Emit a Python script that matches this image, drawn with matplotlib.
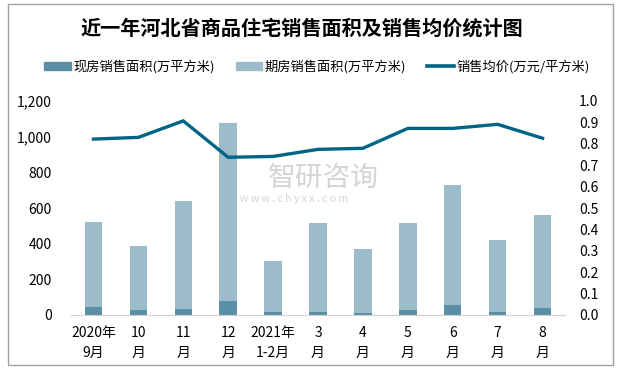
import matplotlib
matplotlib.use("Agg")
import matplotlib.pyplot as plt
from matplotlib.patches import Patch, Rectangle
from matplotlib.lines import Line2D
import numpy as np

plt.rcParams['font.family'] = ['Noto Sans CJK SC', 'DejaVu Sans']

categories = ["2020年\n9月", "10\n月", "11\n月", "12\n月", "2021年\n1-2月", "3\n月",
              "4\n月", "5\n月", "6\n月", "7\n月", "8\n月"]
existing_area = [46, 28, 34, 78, 17, 17, 11, 28, 56, 17, 39]
total_area = [521, 387, 639, 1077, 303, 516, 370, 516, 729, 420, 561]
future_area = [t - e for t, e in zip(total_area, existing_area)]
avg_price = [0.822, 0.830, 0.907, 0.737, 0.741, 0.774, 0.779, 0.872, 0.872, 0.891, 0.826]

c_dark = "#5B8FA6"
c_light = "#9DBCCA"
c_line = "#006487"

fig = plt.figure(figsize=(6.17, 3.69), dpi=100)
ax = fig.add_axes([71/617, 54/369, 494/617, 214/369])
x = np.arange(len(categories))
w = 0.39
ax.bar(x, existing_area, width=w, color=c_dark, zorder=2)
ax.bar(x, future_area, width=w, bottom=existing_area, color=c_light, zorder=2)
ax.set_xlim(-0.5, len(categories) - 0.5)
ax.set_ylim(0, 1200)
ax.set_yticks(range(0, 1201, 200))
ax.set_yticklabels([f"{v:,}" for v in range(0, 1201, 200)])
ax.set_xticks(x)
ax.set_xticklabels(categories, linespacing=1.55)
for s in ["top", "right", "left"]:
    ax.spines[s].set_visible(False)
ax.spines["bottom"].set_color("#D0D0D0")
ax.tick_params(axis="y", length=0, pad=14, labelsize=10)
ax.tick_params(axis="x", length=0, pad=8, labelsize=10)

ax2 = ax.twinx()
ax2.plot(x, avg_price, color=c_line, lw=2.4, zorder=3, solid_joinstyle="miter")
ax2.set_ylim(0, 1.0)
ax2.set_yticks(np.arange(0, 1.01, 0.1))
ax2.set_yticklabels([f"{v:.1f}" for v in np.arange(0, 1.01, 0.1)])
for s in ["top", "right", "left", "bottom"]:
    ax2.spines[s].set_visible(False)
ax2.tick_params(axis="y", length=0, pad=10, labelsize=10)

# watermark
fig.text(268/617, 1 - 178/369, "智研咨询", fontsize=20, color="#D4D4D4", ha="left", va="center", zorder=0)
fig.text(240/617, 1 - 199/369, "w w w . c h y x x . c o m", fontsize=7.5, color="#D4D4D4", ha="left", va="center")

fig.text(302/617, 1 - 28/369, "近一年河北省商品住宅销售面积及销售均价统计图",
         fontsize=14.5, fontweight="bold", ha="center", va="center")

handles = [Patch(color=c_dark), Patch(color=c_light), Line2D([0], [0], color=c_line, lw=2.6)]
labels = ["现房销售面积(万平方米)", "期房销售面积(万平方米)", "销售均价(万元/平方米)"]
fig.legend(handles, labels, loc="center", bbox_to_anchor=(317/617, 1 - 67/369), ncol=3,
           frameon=False, fontsize=9.5, handlelength=2.0, handleheight=0.6,
           handletextpad=0.2, columnspacing=1.6)

fig.patches.append(Rectangle((8/617, 4/369), 605/617, 361/369, transform=fig.transFigure,
                             fill=False, edgecolor="#A0A0A0", lw=1))

fig.savefig("out.png", dpi=100)
